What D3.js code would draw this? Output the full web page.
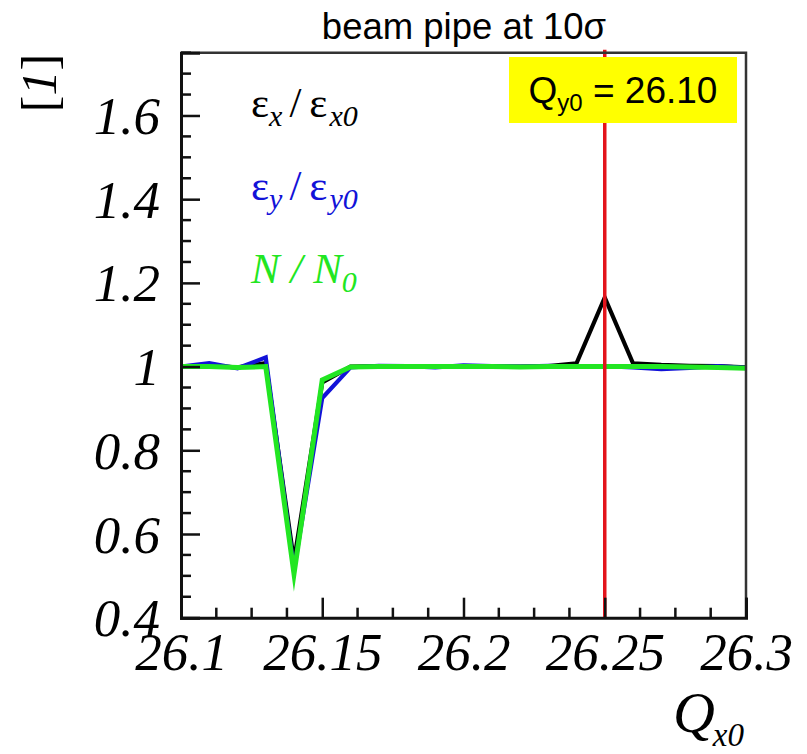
<!DOCTYPE html>
<html>
<head>
<meta charset="utf-8">
<script src="https://cdn.jsdelivr.net/npm/d3@7"></script>
<style>
  html, body { margin: 0; padding: 0; background: #fff; }
  svg { display: block; }
</style>
</head>
<body>
<svg id="chart" width="807" height="754"></svg>
<script>
// Horizontal tune scan points
const qx0 = [26.10, 26.11, 26.12, 26.13, 26.14, 26.15, 26.16, 26.17, 26.18, 26.19, 26.20,
             26.21, 26.22, 26.23, 26.24, 26.25, 26.26, 26.27, 26.28, 26.29, 26.30];

// Normalised horizontal emittance eps_x / eps_x0
const emitX = [1.000, 1.002, 0.998, 1.008, 0.535, 0.962, 1.000, 1.001, 1.000, 0.999, 1.000,
               1.000, 1.000, 1.001, 1.008, 1.165, 1.008, 1.004, 1.002, 1.001, 0.998];

// Normalised vertical emittance eps_y / eps_y0
const emitY = [1.000, 1.008, 0.996, 1.022, 0.515, 0.925, 0.998, 1.002, 1.001, 0.998, 1.003,
               1.001, 1.000, 1.002, 1.000, 1.001, 0.998, 0.994, 0.997, 1.001, 0.997];

// Normalised intensity N / N0
const intensity = [1.000, 1.000, 0.998, 1.000, 0.505, 0.968, 0.999, 1.000, 1.000, 1.000, 1.000,
                   1.000, 0.999, 1.000, 1.000, 1.000, 1.000, 1.000, 0.999, 0.998, 0.996];

// Axis ticks
const xMajorTicks = [26.1, 26.15, 26.2, 26.25, 26.3];
const xTickLabels = ["26.1", "26.15", "26.2", "26.25", "26.3"];
const yMajorTicks = [0.4, 0.6, 0.8, 1.0, 1.2, 1.4, 1.6];
const yTickLabels = ["0.4", "0.6", "0.8", "1", "1.2", "1.4", "1.6"];

// Fixed vertical tune and marker position
const qy0Label = "26.10";
const markerQx = 26.25;

const svg = d3.select("#chart");
const plotL = 181, plotR = 746, plotT = 52.7, plotB = 617.7;

const x = d3.scaleLinear().domain([26.1, 26.3]).range([plotL, plotR]);
const y = d3.scaleLinear().domain([0.4, 1.75]).range([plotB, plotT]);

const serif = "'Liberation Serif', 'Times New Roman', serif";
const sans = "'Liberation Sans', Arial, sans-serif";

// Title
svg.append("text")
  .attr("x", 464).attr("y", 39)
  .attr("text-anchor", "middle")
  .attr("font-family", sans)
  .attr("font-size", 36.5)
  .text("beam pipe at 10\u03C3");

// Series lines
const line = d3.line().x((d, i) => x(qx0[i])).y(d => y(d));
const series = [
  { values: emitX, color: "#000000", width: 4.2 },
  { values: emitY, color: "#1212d8", width: 4.2 },
  { values: intensity, color: "#22e622", width: 5 }
];
svg.append("g").selectAll("path").data(series).join("path")
  .attr("d", d => line(d.values))
  .attr("fill", "none")
  .attr("stroke", d => d.color)
  .attr("stroke-width", d => d.width)
  .attr("stroke-linejoin", "miter")
  .attr("stroke-miterlimit", 12);

// Red marker line
svg.append("line")
  .attr("x1", x(markerQx)).attr("x2", x(markerQx))
  .attr("y1", plotT - 3).attr("y2", plotB)
  .attr("stroke", "#e3141c").attr("stroke-width", 3.5);

// Frame (top and right)
svg.append("path")
  .attr("d", `M${plotL},${plotT}H${plotR}V${plotB}`)
  .attr("fill", "none").attr("stroke", "#333").attr("stroke-width", 2.5);

// X axis with major ticks plus minor ticks every 0.0125
const xAxis = d3.axisBottom(x)
  .tickValues(xMajorTicks).tickSize(-20).tickFormat((d, i) => xTickLabels[i]).tickPadding(14);
const gx = svg.append("g").attr("transform", `translate(0,${plotB})`).call(xAxis);
gx.select(".domain").attr("stroke", "#111").attr("stroke-width", 3);
gx.selectAll(".tick line").attr("stroke", "#111").attr("stroke-width", 2.5);
gx.selectAll(".tick text")
  .attr("font-family", serif).attr("font-style", "italic").attr("font-size", 53)
  .attr("fill", "#000").attr("dy", "0.72em");
const xMinor = d3.range(0, 17).map(k => 26.1 + k * 0.0125).filter(v => !xMajorTicks.some(t => Math.abs(t - v) < 1e-6));
gx.selectAll(".minor").data(xMinor).join("line").attr("class", "minor")
  .attr("x1", d => x(d)).attr("x2", d => x(d)).attr("y1", 0).attr("y2", -10)
  .attr("stroke", "#111").attr("stroke-width", 2.5);

// Y axis with major ticks plus minor ticks every 0.05
const yAxis = d3.axisLeft(y)
  .tickValues(yMajorTicks).tickSize(-19).tickFormat((d, i) => yTickLabels[i]).tickPadding(21);
const gy = svg.append("g").attr("transform", `translate(${plotL},0)`).call(yAxis);
gy.select(".domain").attr("stroke", "#111").attr("stroke-width", 3);
gy.selectAll(".tick line").attr("stroke", "#111").attr("stroke-width", 2.5);
gy.selectAll(".tick text")
  .attr("font-family", serif).attr("font-style", "italic").attr("font-size", 53)
  .attr("fill", "#000").attr("dy", "0.34em");
const yMinor = d3.range(0, 28).map(k => 0.4 + k * 0.05).filter(v => v <= 1.75 && !yMajorTicks.some(t => Math.abs(t - v) < 1e-6));
gy.selectAll(".minor").data(yMinor).join("line").attr("class", "minor")
  .attr("x1", 0).attr("x2", 10).attr("y1", d => y(d)).attr("y2", d => y(d))
  .attr("stroke", "#111").attr("stroke-width", 2.5);

// Y axis title
svg.append("text")
  .attr("transform", "translate(56,83) rotate(-90)")
  .attr("text-anchor", "middle")
  .attr("font-family", serif).attr("font-size", 50)
  .html("[<tspan font-style='italic'>1</tspan>]");

// X axis title
const xt = svg.append("text")
  .attr("x", 744).attr("y", 732)
  .attr("text-anchor", "end")
  .attr("font-family", serif).attr("font-style", "italic").attr("font-size", 58);
xt.append("tspan").text("Q");
xt.append("tspan").attr("font-size", 33).attr("dy", 14).attr("dx", -2).text("x0");

// Legend entries
function legendEntry(yPos, color, parts) {
  const t = svg.append("text").attr("x", 251).attr("y", yPos)
    .attr("font-family", serif).attr("font-size", 43).attr("fill", color);
  parts.forEach(p => {
    const s = t.append("tspan").text(p.text);
    if (p.italic) s.attr("font-style", "italic");
    if (p.sub) s.attr("font-size", 30).attr("dy", p.dy);
    else if (p.dy) s.attr("dy", p.dy);
    if (p.dx) s.attr("dx", p.dx);
  });
}
legendEntry(117, "#000", [
  { text: "\u03B5" }, { text: "x", italic: true, sub: true, dy: 9 },
  { text: "/", dy: -9, dx: 7 }, { text: "\u03B5", dx: 8 }, { text: "x0", italic: true, sub: true, dy: 9, dx: 2 }
]);
legendEntry(200, "#1212d8", [
  { text: "\u03B5" }, { text: "y", italic: true, sub: true, dy: 9 },
  { text: "/", dy: -9, dx: 7 }, { text: "\u03B5", dx: 8 }, { text: "y0", italic: true, sub: true, dy: 9, dx: 2 }
]);
legendEntry(283, "#22e622", [
  { text: "N / N", italic: true }, { text: "0", italic: true, sub: true, dy: 9 }
]);

// Highlighted tune box
svg.append("rect")
  .attr("x", 509).attr("y", 57).attr("width", 228).attr("height", 66)
  .attr("fill", "#ffff00");
const bt = svg.append("text")
  .attr("x", 623).attr("y", 103)
  .attr("text-anchor", "middle")
  .attr("font-family", sans).attr("font-size", 37).attr("fill", "#000");
bt.append("tspan").text("Q");
bt.append("tspan").attr("font-size", 24).attr("dy", 8).text("y0");
bt.append("tspan").attr("dy", -8).text(" = " + qy0Label);
</script>
</body>
</html>
